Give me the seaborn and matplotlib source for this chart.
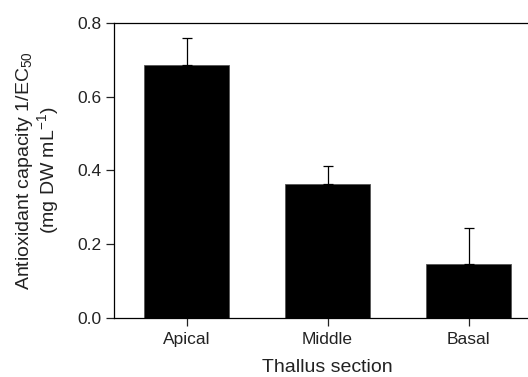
import pandas as pd
import seaborn as sns
import matplotlib.pyplot as plt

# values
sections = ["Apical", "Middle", "Basal"]
capacity = [0.685, 0.362, 0.146]
sd_upper = [0.073, 0.049, 0.098]

df = pd.DataFrame({"section": sections, "capacity": capacity})

sns.set_theme(style="white")
plt.rcParams['font.family'] = ['Liberation Sans', 'DejaVu Sans']
plt.rcParams['mathtext.default'] = 'regular'

fig = plt.figure(figsize=(5.28, 3.77), dpi=100)
ax = fig.add_axes([0.216, 0.1565, 0.809, 0.783])

sns.barplot(data=df, x="section", y="capacity", color="black", width=0.607,
            edgecolor="#555555", linewidth=0.6, saturation=1, errorbar=None, ax=ax)
ax.errorbar(range(len(sections)), capacity, yerr=[[0] * len(sections), sd_upper],
            fmt="none", ecolor="black", elinewidth=0.9, capsize=3.3, capthick=0.9)

ax.set_ylim(0, 0.8)
ax.set_xlim(-0.515, 2.515)
ax.set_yticks([0.0, 0.2, 0.4, 0.6, 0.8])
ax.set_yticklabels(["0.0", "0.2", "0.4", "0.6", "0.8"])

for s in ax.spines.values():
    s.set_color("black")
    s.set_linewidth(0.9)

ax.tick_params(axis="both", direction="out", length=6, width=0.9, colors="#222222",
               labelsize=12.5, left=True, bottom=True, pad=3)
ax.tick_params(axis="x", pad=4)

ax.set_xlabel("Thallus section", fontsize=14, labelpad=9, color="#222222")
ax.set_ylabel("Antioxidant capacity 1/EC$_{50}$\n(mg DW mL$^{-1}$)", fontsize=14,
              linespacing=1.0, color="#222222")
ax.yaxis.set_label_coords(-0.125, 0.5)

fig.savefig("out.png", dpi=100)
